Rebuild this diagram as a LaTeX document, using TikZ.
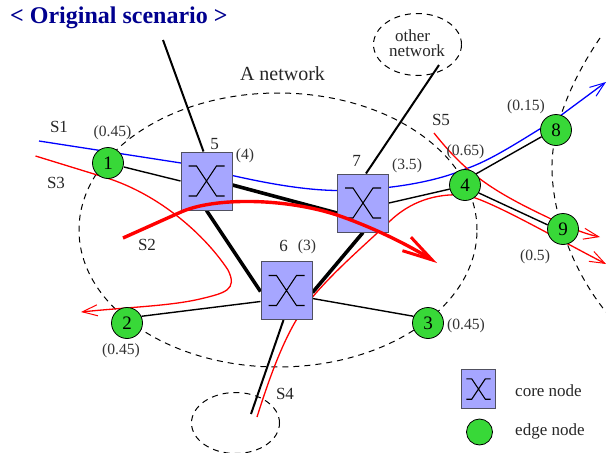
\documentclass[tikz,border=0pt]{standalone}
\usepackage{fontspec}
\setmainfont{Liberation Serif}
\usetikzlibrary{arrows.meta}
\pgfdeclarelayer{bg}
\pgfsetlayers{bg,main}
\definecolor{boxfill}{HTML}{A6A6FF}
\definecolor{edgefill}{HTML}{38D838}
\definecolor{boxline}{HTML}{505060}
\definecolor{titleblue}{HTML}{00008F}
\newcommand{\fs}[1]{\fontsize{#1}{#1}\selectfont}
\tikzset{
  x=1pt,y=-1pt,
  core/.style={draw=boxline,fill=boxfill,line width=1pt,minimum width=51pt,minimum height=58pt,inner sep=0pt},
  edgen/.style={circle,draw=black,fill=edgefill,line width=.8pt,minimum size=31pt,inner sep=0pt,font=\fs{19}},
  lab/.style={inner sep=0pt,font=\fs{17},text=black!85},
  num/.style={inner sep=0pt,font=\fs{15.6},text=black!80},
  cloud/.style={dashed,dash pattern=on 6pt off 5pt,line width=1pt},
  link/.style={line width=1.4pt},
  trunk/.style={line width=3.6pt},
  ext/.style={line width=2pt},
  xsym/.pic={\draw[line width=1.1pt] (-18,-15)--(-10,-15)--(10,15)--(18,15) (-18,15)--(-10,15)--(10,-15)--(18,-15);},
  thinflow/.style={line width=1.3pt,-{Straight Barb[length=15pt,width=11pt,line width=1pt]}},
}
\begin{document}
\begin{tikzpicture}
\useasboundingbox (0,0) rectangle (606,453);
% nodes
\node[core] (n5) at (206.5,181) {};
\node[core] (n6) at (286.5,290.5) {};
\node[core] (n7) at (363,203) {};
\node[edgen] (n1) at (108,163) {1};
\node[edgen] (n2) at (127,323) {2};
\node[edgen] (n3) at (428,323) {3};
\node[edgen] (n4) at (465,185) {4};
\node[edgen] (n8) at (556,130) {8};
\node[edgen] (n9) at (563,229) {9};
\pic at (n5) {xsym};
\pic at (n6) {xsym};
\pic at (n7) {xsym};
% legend
\node[core,minimum width=34.5pt,minimum height=39pt] (lc) at (478.5,389) {};
\pic[scale=.68] at (lc) {xsym};
\node[edgen,minimum size=26pt] (le) at (479.5,432) {};
\node[lab,anchor=west] (tc) at (515,391) {core node};
\node[lab,anchor=west] (te) at (515,431) {edge node};
% free ends
\coordinate (top5) at (163,40);
\coordinate (top7) at (439,65);
\coordinate (bot6) at (251,414);
% texts
\node[inner sep=0pt,anchor=west,font=\fs{24}\bfseries,text=titleblue] (title) at (10,18) {< Original scenario >};
\node[inner sep=0pt,font=\fs{20},text=black!85] (anet) at (282.5,74) {A network};
\node[lab,align=left,anchor=north west,font=\fontsize{17}{15}\selectfont] (ot) at (389,30) {\hspace*{6pt}other\\network};
\node[lab] (s1) at (59,127) {S1};
\node[lab] (s3) at (56,183) {S3};
\node[lab] (s2) at (147,245) {S2};
\node[lab] (s4) at (285,394) {S4};
\node[lab] (s5) at (441,120) {S5};
\node[lab] (l5) at (214.5,144) {5};
\node[lab] (l7) at (356.5,161) {7};
\node[lab] (l6) at (283.5,246) {6};
\node[num] (w4) at (245,156) {(4)};
\node[num] (w35) at (407,166) {(3.5)};
\node[num] (w3) at (307,247) {(3)};
\node[num] (w1) at (112.5,133) {(0.45)};
\node[num] (w65) at (465.5,152) {(0.65)};
\node[num] (w15) at (526,107) {(0.15)};
\node[num] (w5) at (535,257) {(0.5)};
\node[num] (w2) at (121,351) {(0.45)};
\node[num] (w33) at (466,326) {(0.45)};
% thick S2 on top
\coordinate (s2a) at (123,238);
\coordinate (s2b) at (437,263);
\draw[red,line width=3.4pt,-{Straight Barb[length=30pt,width=16pt,line width=3pt]}] (s2a) -- (181,212) .. controls (215,197) and (285,198) .. (337,215) .. controls (375,228) and (410,246) .. (s2b);
\begin{pgfonlayer}{bg}
% clouds
\draw[cloud] (278,230) ellipse [x radius=199pt,y radius=137pt];
\draw[cloud] (417.5,44.5) ellipse [x radius=44pt,y radius=31pt];
\draw[cloud] (235.5,423) ellipse [x radius=44pt,y radius=30.5pt];
\begin{scope}
\clip (540,30) rectangle (606,312);
\draw[cloud] (600,38) .. controls (570,82) and (551,130) .. (552,170) .. controls (553,215) and (572,270) .. (606,312);
\end{scope}
% flows
\coordinate (b0) at (39,141);
\coordinate (b1) at (606,82);
\draw[blue,thinflow] (b0) -- (181,163) .. controls (232,176) and (290,190) .. (337,190.5) .. controls (395,190) and (440,180) .. (n4.north) .. controls (490,161) and (520,141) .. (556,119) -- (b1);
\coordinate (r0) at (35.5,156);
\coordinate (r1) at (81,312);
\draw[red,thinflow] (r0) -- (107,178) .. controls (160,195) and (205,235) .. (228,270) .. controls (238,290) and (225,293) .. (200,299) .. controls (170,306) and (130,307) .. (r1);
\coordinate (r2) at (257,417);
\coordinate (r3) at (606,264);
\draw[red,thinflow] (r2) .. controls (275,360) and (290,325) .. (310,300) .. controls (335,270) and (365,245) .. (390,221) .. controls (410,202) and (435,193) .. (465,195) .. controls (490,200) and (550,235) .. (r3);
\coordinate (r4) at (434,133);
\coordinate (r5) at (600,237);
\draw[red,thinflow] (r4) .. controls (465,172) and (490,190) .. (547,217) .. controls (565,226) and (585,234) .. (r5);
% links
\draw[link] ([yshift=-4pt]n1.east) -- (n5.west);
\draw[link] (n2.25) -- ([yshift=-11pt]n6.west);
\draw[link] ([yshift=-8pt]n6.east) -- (n3.155);
\draw[link] (n7.east) -- (n4.195);
\draw[link] (n4.north east) -- (n8.205);
\draw[link] (n4.-30) -- (n9.165);
\draw[trunk] ([yshift=-4pt]n5.east) -- ([yshift=-10pt]n7.west);
\draw[trunk] (n5.south) -- ([yshift=-1pt]n6.west);
\draw[trunk] ([yshift=-2pt]n6.east) -- (n7.south);
\draw[ext] (top5) -- ([xshift=-3pt]n5.north);
\draw[ext] (top7) -- ([xshift=3pt]n7.north);
\draw[ext] ([xshift=-3pt]n6.south) -- (bot6);
\end{pgfonlayer}
\end{tikzpicture}
\end{document}
